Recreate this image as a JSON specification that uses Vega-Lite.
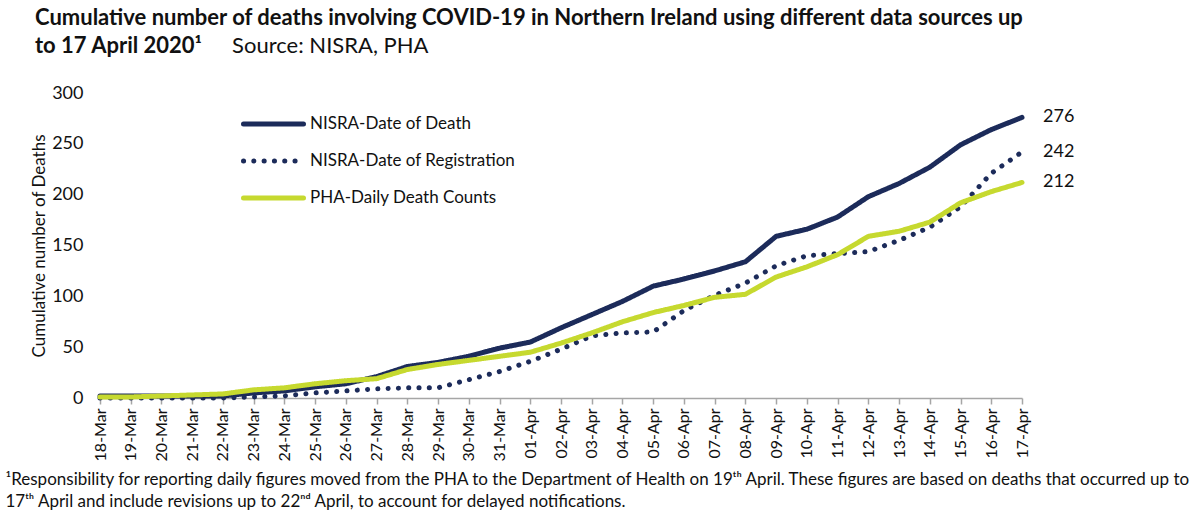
{
  "$schema": "https://vega.github.io/schema/vega-lite/v6.json",
  "width": 922,
  "height": 305,
  "autosize": "none",
  "padding": {"left": 100, "top": 93, "right": 178, "bottom": 114},
  "background": "#ffffff",
  "config": {
    "font": "Lato",
    "view": {"stroke": null},
    "axis": {"labelColor": "#111111", "titleColor": "#111111", "grid": false}
  },
  "title": {
    "text": [
      "Cumulative number of deaths involving COVID-19 in Northern Ireland using different data sources up",
      "to 17 April 2020¹"
    ],
    "subtitle": "\u200b\u00a0\u00a0\u00a0\u00a0\u00a0\u00a0\u00a0\u00a0\u00a0\u00a0\u00a0\u00a0\u00a0\u00a0\u00a0\u00a0\u00a0\u00a0\u00a0\u00a0\u00a0\u00a0\u00a0\u00a0\u00a0\u00a0\u00a0\u00a0\u00a0\u00a0\u00a0\u00a0\u00a0\u00a0\u00a0Source: NISRA, PHA",
    "anchor": "start",
    "frame": "group",
    "dx": -65,
    "offset": 26,
    "fontSize": 22,
    "fontWeight": "bold",
    "color": "#111111",
    "lineHeight": 28,
    "subtitleFontSize": 22,
    "subtitleFontWeight": "normal",
    "subtitleColor": "#111111",
    "subtitlePadding": -22
  },
  "data": {
    "values": [
      {"date": "2020/03/18", "NISRA-Date of Death": 2, "NISRA-Date of Registration": 0, "PHA-Daily Death Counts": 1},
      {"date": "2020/03/19", "NISRA-Date of Death": 2, "NISRA-Date of Registration": 0, "PHA-Daily Death Counts": 1},
      {"date": "2020/03/20", "NISRA-Date of Death": 2, "NISRA-Date of Registration": 0, "PHA-Daily Death Counts": 2},
      {"date": "2020/03/21", "NISRA-Date of Death": 2, "NISRA-Date of Registration": 0, "PHA-Daily Death Counts": 3},
      {"date": "2020/03/22", "NISRA-Date of Death": 2, "NISRA-Date of Registration": 0, "PHA-Daily Death Counts": 4},
      {"date": "2020/03/23", "NISRA-Date of Death": 5, "NISRA-Date of Registration": 1, "PHA-Daily Death Counts": 8},
      {"date": "2020/03/24", "NISRA-Date of Death": 7, "NISRA-Date of Registration": 2, "PHA-Daily Death Counts": 10},
      {"date": "2020/03/25", "NISRA-Date of Death": 11, "NISRA-Date of Registration": 5, "PHA-Daily Death Counts": 14},
      {"date": "2020/03/26", "NISRA-Date of Death": 14, "NISRA-Date of Registration": 7, "PHA-Daily Death Counts": 17},
      {"date": "2020/03/27", "NISRA-Date of Death": 21, "NISRA-Date of Registration": 9, "PHA-Daily Death Counts": 19},
      {"date": "2020/03/28", "NISRA-Date of Death": 31, "NISRA-Date of Registration": 10, "PHA-Daily Death Counts": 28},
      {"date": "2020/03/29", "NISRA-Date of Death": 35, "NISRA-Date of Registration": 10, "PHA-Daily Death Counts": 33},
      {"date": "2020/03/30", "NISRA-Date of Death": 41, "NISRA-Date of Registration": 18, "PHA-Daily Death Counts": 37},
      {"date": "2020/03/31", "NISRA-Date of Death": 49, "NISRA-Date of Registration": 26, "PHA-Daily Death Counts": 41},
      {"date": "2020/04/01", "NISRA-Date of Death": 55, "NISRA-Date of Registration": 36, "PHA-Daily Death Counts": 45},
      {"date": "2020/04/02", "NISRA-Date of Death": 69, "NISRA-Date of Registration": 48, "PHA-Daily Death Counts": 54},
      {"date": "2020/04/03", "NISRA-Date of Death": 82, "NISRA-Date of Registration": 61, "PHA-Daily Death Counts": 64},
      {"date": "2020/04/04", "NISRA-Date of Death": 95, "NISRA-Date of Registration": 64, "PHA-Daily Death Counts": 75},
      {"date": "2020/04/05", "NISRA-Date of Death": 110, "NISRA-Date of Registration": 65, "PHA-Daily Death Counts": 84},
      {"date": "2020/04/06", "NISRA-Date of Death": 117, "NISRA-Date of Registration": 86, "PHA-Daily Death Counts": 91},
      {"date": "2020/04/07", "NISRA-Date of Death": 125, "NISRA-Date of Registration": 101, "PHA-Daily Death Counts": 99},
      {"date": "2020/04/08", "NISRA-Date of Death": 134, "NISRA-Date of Registration": 113, "PHA-Daily Death Counts": 102},
      {"date": "2020/04/09", "NISRA-Date of Death": 159, "NISRA-Date of Registration": 130, "PHA-Daily Death Counts": 119},
      {"date": "2020/04/10", "NISRA-Date of Death": 166, "NISRA-Date of Registration": 140, "PHA-Daily Death Counts": 129},
      {"date": "2020/04/11", "NISRA-Date of Death": 178, "NISRA-Date of Registration": 142, "PHA-Daily Death Counts": 141},
      {"date": "2020/04/12", "NISRA-Date of Death": 198, "NISRA-Date of Registration": 144, "PHA-Daily Death Counts": 159},
      {"date": "2020/04/13", "NISRA-Date of Death": 211, "NISRA-Date of Registration": 155, "PHA-Daily Death Counts": 164},
      {"date": "2020/04/14", "NISRA-Date of Death": 227, "NISRA-Date of Registration": 168, "PHA-Daily Death Counts": 173},
      {"date": "2020/04/15", "NISRA-Date of Death": 249, "NISRA-Date of Registration": 188, "PHA-Daily Death Counts": 192},
      {"date": "2020/04/16", "NISRA-Date of Death": 264, "NISRA-Date of Registration": 221, "PHA-Daily Death Counts": 203},
      {"date": "2020/04/17", "NISRA-Date of Death": 276, "NISRA-Date of Registration": 242, "PHA-Daily Death Counts": 212}
    ]
  },
  "transform": [
    {"fold": ["NISRA-Date of Death", "NISRA-Date of Registration", "PHA-Daily Death Counts"], "as": ["series", "deaths"]}
  ],
  "encoding": {
    "x": {
      "field": "date",
      "type": "ordinal",
      "timeUnit": "yearmonthdate",
      "scale": {"padding": 0},
      "axis": {
        "format": "%d-%b",
        "labelAngle": -90,
        "labelFontSize": 16,
        "labelPadding": 4,
        "domainColor": "#a6a6a6",
        "domainWidth": 1.5,
        "tickColor": "#a6a6a6",
        "tickWidth": 1.5,
        "tickSize": 6,
        "title": [
          "¹Responsibility for reporting daily figures moved from the PHA to the Department of Health on 19ᵗʰ April. These figures are based on deaths that occurred up to",
          "17ᵗʰ April and include revisions up to 22ⁿᵈ April, to account for delayed notifications."
        ],
        "titleFontSize": 17,
        "titleFontWeight": "normal",
        "titleAnchor": "start",
        "titleAlign": "left",
        "titleX": -95,
        "titleY": 86,
        "titleBaseline": "alphabetic",
        "titleLineHeight": 22
      }
    },
    "y": {
      "field": "deaths",
      "type": "quantitative",
      "scale": {"domain": [0, 300], "nice": false},
      "axis": {
        "values": [0, 50, 100, 150, 200, 250, 300],
        "domain": false,
        "ticks": false,
        "labelFontSize": 18,
        "labelPadding": 17,
        "title": "Cumulative number of Deaths",
        "titleFontSize": 17,
        "titleFontWeight": "normal",
        "titlePadding": 3
      }
    }
  },
  "layer": [
    {
      "mark": {"type": "line", "strokeCap": "round", "strokeJoin": "round"},
      "encoding": {
        "color": {
          "field": "series",
          "type": "nominal",
          "scale": {
            "domain": ["NISRA-Date of Death", "NISRA-Date of Registration", "PHA-Daily Death Counts"],
            "range": ["#1c2b5a", "#1c2b5a", "#c6d92f"]
          },
          "legend": {
            "orient": "none",
            "legendX": 141,
            "legendY": 21,
            "title": null,
            "padding": 0,
            "symbolType": "stroke",
            "symbolSize": 3600,
            "symbolStrokeWidth": 5,
            "clipHeight": 20,
            "rowPadding": 17,
            "labelFontSize": 17,
            "labelLimit": 400,
            "labelColor": "#111111",
            "labelOffset": 4,
            "encode": {"symbols": {"update": {"strokeCap": {"value": "round"}}}}
          }
        },
        "strokeDash": {
          "field": "series",
          "type": "nominal",
          "scale": {
            "domain": ["NISRA-Date of Death", "NISRA-Date of Registration", "PHA-Daily Death Counts"],
            "range": [[1, 0], [0.1, 10.2], [1, 0]]
          }
        },
        "strokeWidth": {
          "field": "series",
          "type": "nominal",
          "scale": {
            "domain": ["NISRA-Date of Death", "NISRA-Date of Registration", "PHA-Daily Death Counts"],
            "range": [5, 5, 4]
          },
          "legend": null
        }
      }
    },
    {
      "transform": [{"filter": "month(datum.date) === 3 && date(datum.date) === 17"}],
      "mark": {"type": "text", "align": "left", "baseline": "middle", "dx": 21, "fontSize": 18, "color": "#111111"},
      "encoding": {
        "text": {"field": "deaths", "type": "quantitative"}
      }
    }
  ]
}
